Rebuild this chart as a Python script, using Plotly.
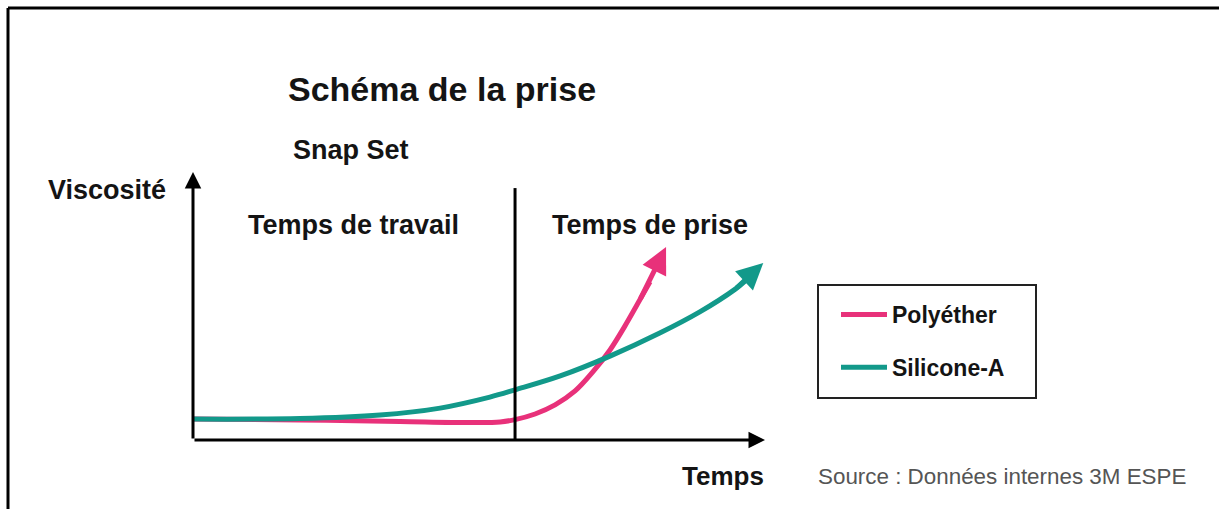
import plotly.graph_objects as go

# ---------------- data (time / viscosity in arbitrary units) ----------------
time_poly = [0, 18.7, 36.2, 48.4, 53.7, 56.3, 59.8, 63.3, 66.8, 69.9, 72.9, 75.5, 78.1, 79.9]
visc_poly = [7.8, 7.5, 6.9, 6.5, 6.7, 7.6, 9.7, 13.1, 18.3, 25.4, 33.6, 42.5, 52.2, 59.0]
tip_poly = (82.7, 72.0)

time_sil = [0, 18.7, 32.7, 43.2, 51.9, 56.3, 64.2, 72.9, 81.6, 88.6, 94.8, 96.5]
visc_sil = [7.8, 8.0, 9.3, 11.9, 16.0, 18.7, 23.9, 31.3, 39.9, 47.8, 56.3, 59.3]
tip_sil = (99.7, 66.0)

series_names = ["Polyéther", "Silicone-A"]
series_colors = ["#E8317A", "#12998A"]
setting_start = 56.3      # boundary between working time and setting time
axis_max_t = 100
axis_max_v = 100
divider_top = 94

title_text = "Schéma de la prise"
subtitle_text = "Snap Set"
y_label = "Viscosité"
x_label = "Temps"
phase_labels = ["Temps de travail", "Temps de prise"]
source_text = "Source : Données internes 3M ESPE"

W, H = 1219, 509
FONT = "Liberation Sans, Arial, Helvetica, sans-serif"
INK = "#141414"

fig = go.Figure()
fig.add_trace(go.Scatter(x=time_poly, y=visc_poly, mode="lines", name=series_names[0],
                         line=dict(color=series_colors[0], width=5, shape="spline", smoothing=1),
                         legendgroup="a", hoverinfo="skip"))
fig.add_trace(go.Scatter(x=time_sil, y=visc_sil, mode="lines", name=series_names[1],
                         line=dict(color=series_colors[1], width=5, shape="spline", smoothing=1),
                         legendgroup="b", hoverinfo="skip"))

# arrowheads at the curve ends (shaft overlaps the last segment so the join is seamless)
for tx, ty, tip, col in [(time_poly, visc_poly, tip_poly, series_colors[0]),
                         (time_sil, visc_sil, tip_sil, series_colors[1])]:
    fig.add_annotation(x=tip[0], y=tip[1], ax=tx[-2], ay=ty[-2], xref="x", yref="y",
                       axref="x", ayref="y", text="", showarrow=True, arrowhead=2,
                       arrowsize=1.05, arrowwidth=5, arrowcolor=col, standoff=0)

# axes with arrows
fig.add_annotation(x=0, y=axis_max_v, ax=0, ay=0, xref="x", yref="y", axref="x", ayref="y",
                   text="", showarrow=True, arrowhead=2, arrowsize=1.1, arrowwidth=3,
                   arrowcolor="black", standoff=0)
fig.add_annotation(x=axis_max_t, y=0, ax=0, ay=0, xref="x", yref="y", axref="x", ayref="y",
                   text="", showarrow=True, arrowhead=2, arrowsize=1.1, arrowwidth=3,
                   arrowcolor="black", standoff=0)
fig.add_shape(type="line", x0=setting_start, x1=setting_start, y0=0, y1=divider_top,
              xref="x", yref="y", line=dict(color="black", width=3))

# frame (left & top border)
fig.add_shape(type="line", xref="paper", yref="paper", x0=8 / W, x1=8 / W, y0=0, y1=1 - 8 / H,
              line=dict(color="black", width=3))
fig.add_shape(type="line", xref="paper", yref="paper", x0=8 / W, x1=1, y0=1 - 8 / H, y1=1 - 8 / H,
              line=dict(color="black", width=3))

# legend box
fig.add_shape(type="rect", xref="paper", yref="paper", x0=818 / W, x1=1036 / W,
              y0=1 - 398 / H, y1=1 - 285 / H, line=dict(color="#222", width=2))


def label(text, px, py, size, color=INK, anchor="left", bold=True):
    fig.add_annotation(x=px / W, y=1 - py / H, xref="paper", yref="paper", text=text,
                       showarrow=False, xanchor=anchor, yanchor="middle",
                       font=dict(family=FONT, size=size, color=color,
                                 weight="bold" if bold else "normal"))


label(title_text, 286, 89, 34)
label(subtitle_text, 291, 150, 27)
label(y_label, 46, 190, 27)
label(phase_labels[0], 246, 225, 27)
label(phase_labels[1], 550, 225, 27)
label(x_label, 766, 476, 26, anchor="right")
label(source_text, 816, 476, 22.4, color="#555555", bold=False)

# axis ranges chosen so the chart sits where it does in the reference
t_scale = 5.72   # px per time unit
v_scale = 2.68   # px per viscosity unit
x0_px, y0_px = 193, 440
xr = [-x0_px / t_scale, (W - x0_px) / t_scale]
yr = [-(H - y0_px) / v_scale, y0_px / v_scale]

fig.update_layout(
    width=W, height=H, margin=dict(l=0, r=0, t=0, b=0),
    paper_bgcolor="white", plot_bgcolor="white",
    xaxis=dict(range=xr, visible=False, fixedrange=True),
    yaxis=dict(range=yr, visible=False, fixedrange=True),
    showlegend=True,
    legend=dict(x=836 / W, y=1 - 293 / H, xanchor="left", yanchor="top",
                borderwidth=0, bgcolor="rgba(0,0,0,0)",
                font=dict(family=FONT, size=23, color=INK, weight="bold"),
                tracegroupgap=20, itemwidth=46),
)

fig.write_html("out.html", include_plotlyjs=True, config={"displayModeBar": False},
               post_script="document.body.style.margin='0';document.body.style.overflow='hidden';")
